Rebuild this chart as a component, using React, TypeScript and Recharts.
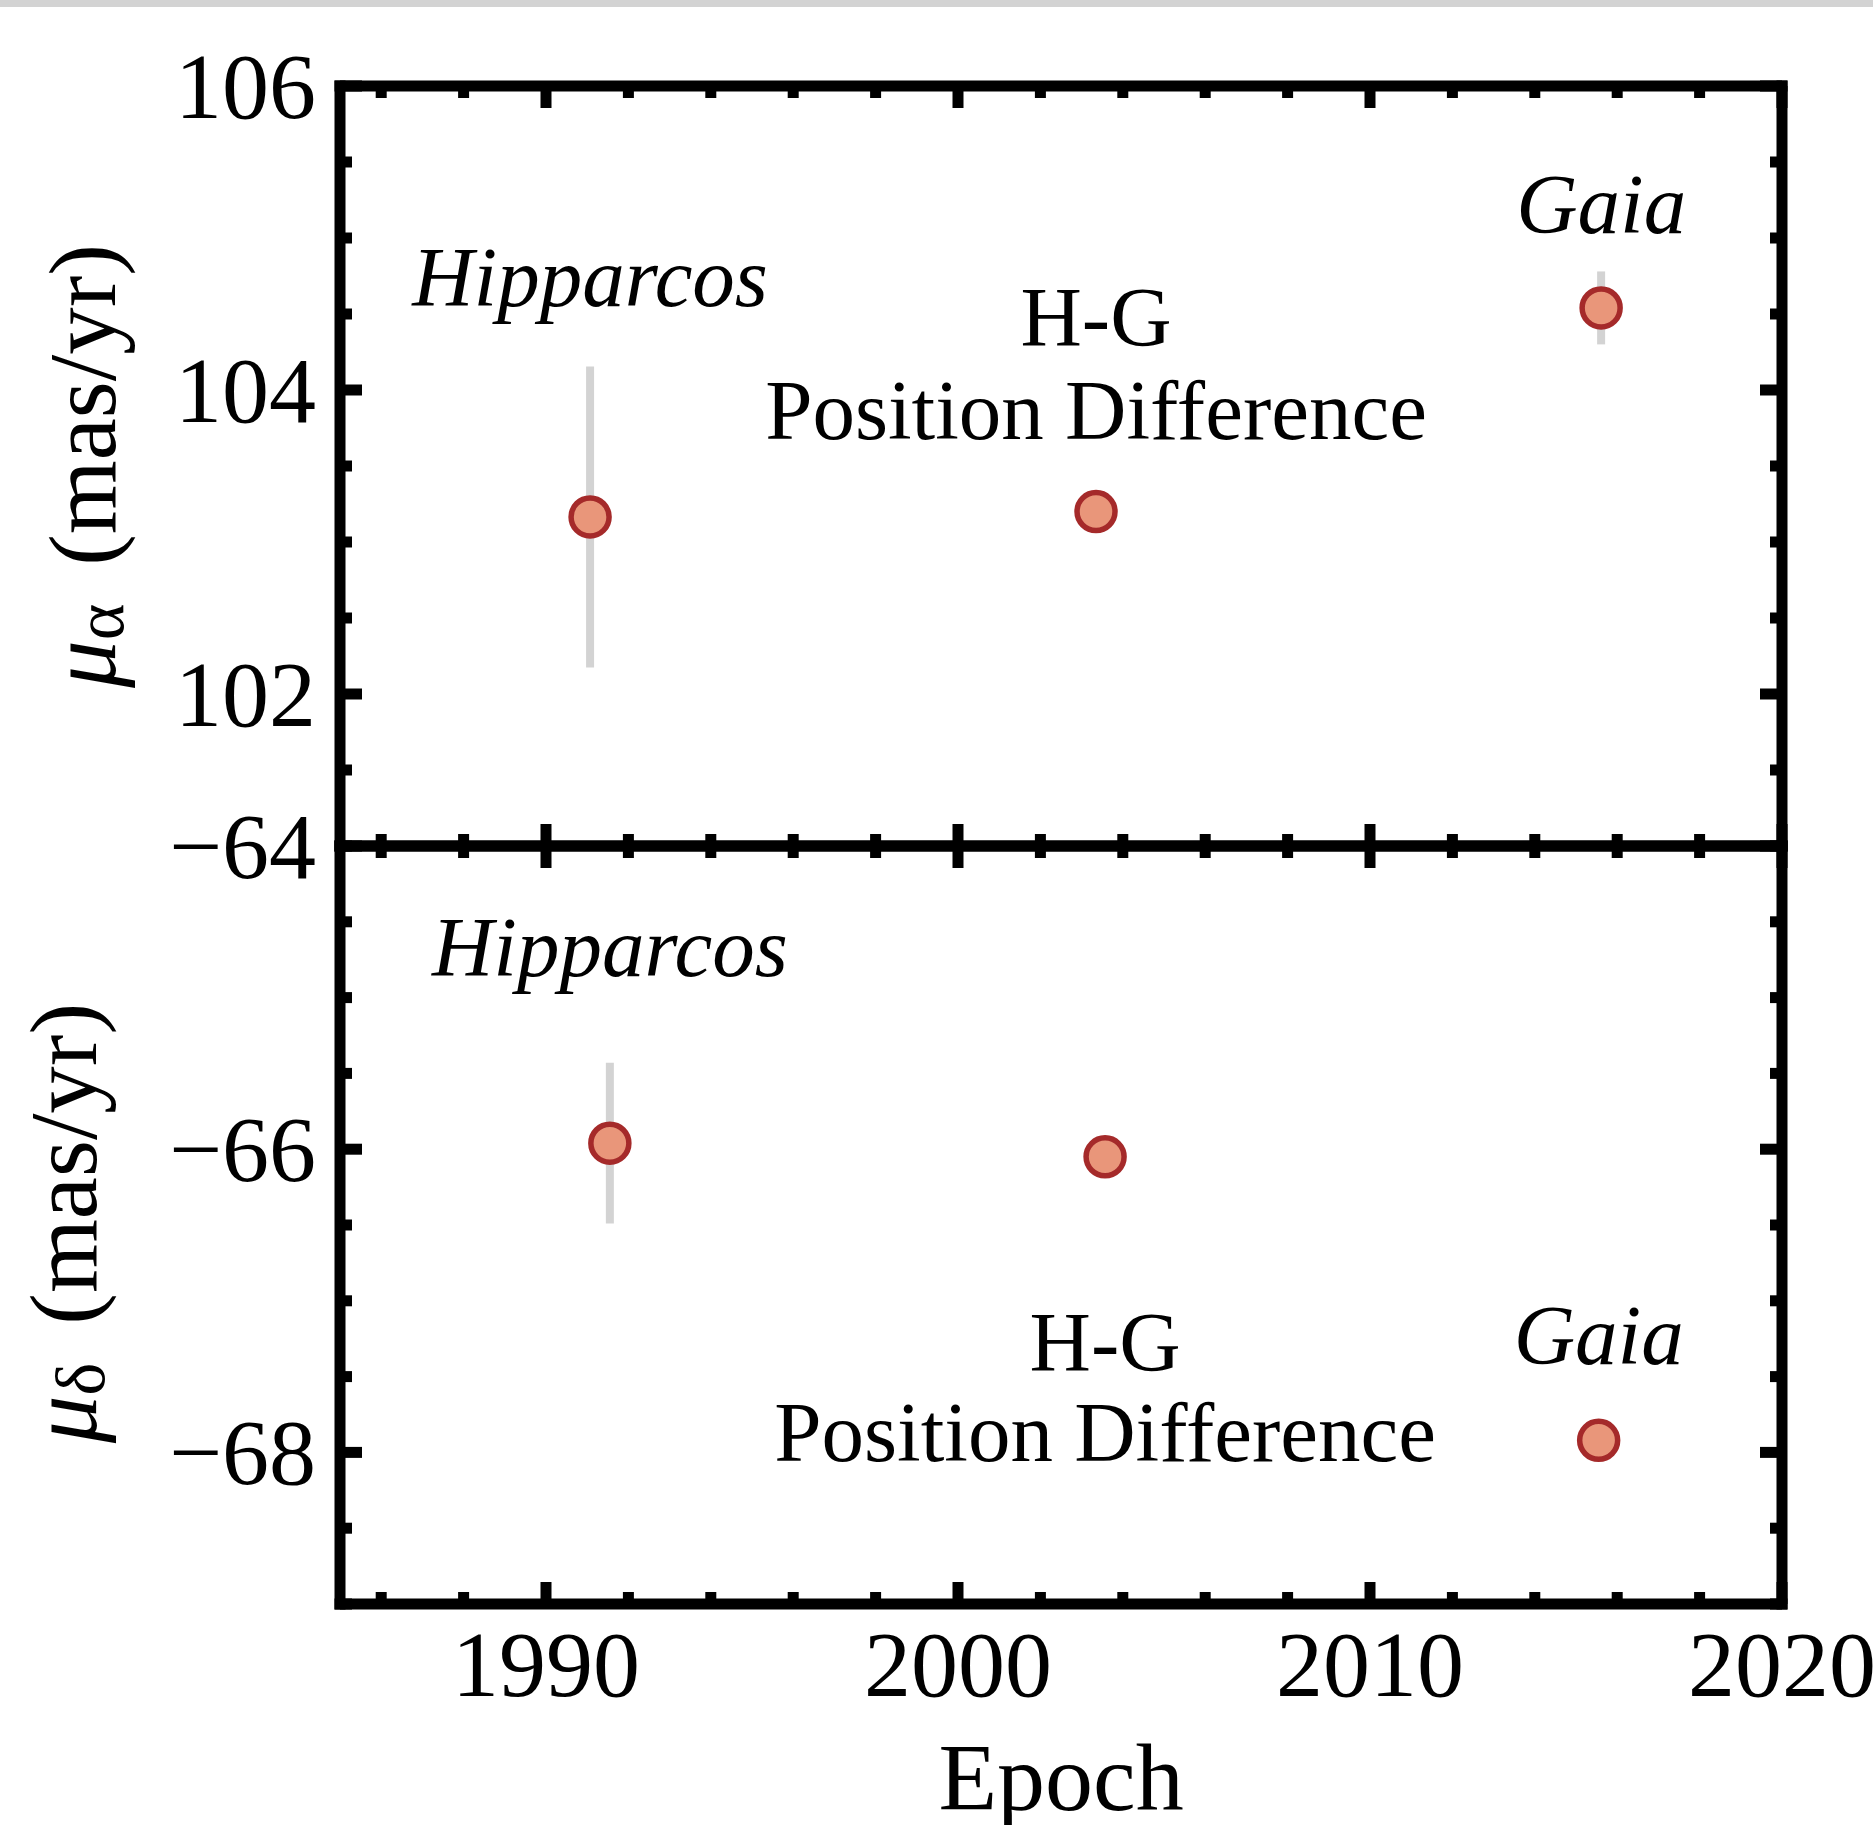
import React from "react";
import { ScatterChart, Scatter, XAxis, YAxis, ErrorBar, Label } from "recharts";

// proper motion measurements (mas/yr) by source
const sources = ["Hipparcos", "H-G", "Gaia"];
const raEpoch = [1991.07, 2003.35, 2015.61];
const raValue = [103.165, 103.2, 104.54];
const raError = [0.99, 0.02, 0.24];
const decEpoch = [1991.55, 2003.57, 2015.55];
const decValue = [-65.96, -66.05, -67.92];
const decError = [0.53, 0.02, 0.03];

// annotation anchors, in data units
const noteText = ["Hipparcos", "H-G", "Position Difference", "Gaia"];
const raNoteEpoch = [1991.07, 2003.35, 2003.35, 2015.61];
const raNoteValue = [104.55, 104.29, 103.68, 105.03];
const decNoteEpoch = [1991.55, 2003.57, 2003.57, 2015.55];
const decNoteValue = [-64.86, -67.46, -68.06, -67.42];

// axes
const xDomain = [1985, 2020];
const xTicks = [1986, 1988, 1990, 1992, 1994, 1996, 1998, 2000, 2002, 2004, 2006, 2008, 2010, 2012, 2014, 2016, 2018, 2020];
const raDomain = [101, 106];
const raTicks = [101, 101.5, 102, 102.5, 103, 103.5, 104, 104.5, 105, 105.5, 106];
const decDomain = [-69, -64];
const decTicks = [-69, -68.5, -68, -67.5, -67, -66.5, -66, -65.5, -65, -64.5, -64];

const FONT = '"Liberation Serif", "Times New Roman", serif';
const LINE = 11;
const MAJOR = 22;
const MINOR = 12;
const frame = { stroke: "#000", strokeWidth: LINE, strokeLinecap: "square" as const };

const raData = sources.map((s, i) => ({ name: s, x: raEpoch[i], y: raValue[i], err: raError[i] }));
const decData = sources.map((s, i) => ({ name: s, x: decEpoch[i], y: decValue[i], err: decError[i] }));
const raNotes = noteText.map((t, i) => ({ text: t, x: raNoteEpoch[i], y: raNoteValue[i] }));
const decNotes = noteText.map((t, i) => ({ text: t, x: decNoteEpoch[i], y: decNoteValue[i] }));

const fmt = (v: number) => String(v).replace("-", "\u2212");

function XTick(props: any) {
  const { x, y, payload, side, labels } = props;
  const v = payload.value;
  const major = Math.abs(v % 10) < 1e-6;
  const dir = side === "bottom" ? -1 : 1;
  return (
    <g>
      <line x1={x} x2={x} y1={y} y2={y + dir * (major ? MAJOR : MINOR)} stroke="#000" strokeWidth={LINE} />
      {labels && major && (
        <text x={x} y={y + 92} textAnchor="middle" fontFamily={FONT} fontSize={94} fill="#000">
          {v}
        </text>
      )}
    </g>
  );
}

function YTick(props: any) {
  const { x, y, payload, side, labels } = props;
  const v = payload.value;
  const major = Math.abs(v % 2) < 1e-6;
  const dir = side === "left" ? 1 : -1;
  return (
    <g>
      <line x1={x} x2={x + dir * (major ? MAJOR : MINOR)} y1={y} y2={y} stroke="#000" strokeWidth={LINE} />
      {labels && major && (
        <text x={x - 24} y={y} dy={32} textAnchor="end" fontFamily={FONT} fontSize={94} fill="#000">
          {fmt(v)}
        </text>
      )}
    </g>
  );
}

function Dot(props: any) {
  const { cx, cy } = props;
  return <circle cx={cx} cy={cy} r={19} fill="#E9967A" stroke="#A52A2A" strokeWidth={5.5} />;
}

function Note(props: any) {
  const { cx, cy, payload } = props;
  const italic = payload.text === "Hipparcos" || payload.text === "Gaia";
  return (
    <text x={cx} y={cy} textAnchor="middle" fontFamily={FONT} fontSize={85} fontStyle={italic ? "italic" : "normal"} fill="#000">
      {payload.text}
    </text>
  );
}

function yTitle(sub: string, tx: number, shift: number) {
  return (p: any) => {
    const vb = p.viewBox;
    const ty = vb.y + vb.height / 2 + shift;
    return (
      <text x={tx} y={ty} transform={`rotate(-90 ${tx} ${ty})`} textAnchor="middle" fontFamily={FONT} fontSize={95} fill="#000">
        <tspan fontStyle="italic">μ</tspan>
        <tspan fontSize={70} dy={8}>{sub}</tspan>
        <tspan dy={-8} dx={14}> (mas/yr)</tspan>
      </text>
    );
  };
}

function Panel(props: {
  height: number;
  margin: { top: number; right: number; bottom: number; left: number };
  domain: number[];
  ticks: number[];
  data: any[];
  notes: any[];
  sub: string;
  titleX: number;
  titleShift: number;
  bottomLabels: boolean;
}) {
  const { height, margin, domain, ticks, data, notes, sub, titleX, titleShift, bottomLabels } = props;
  return (
    <ScatterChart width={1873} height={height} margin={margin}>
      <XAxis
        xAxisId="xb"
        orientation="bottom"
        type="number"
        dataKey="x"
        domain={xDomain}
        allowDataOverflow
        ticks={xTicks}
        interval={0}
        height={10}
        tickSize={0}
        tickMargin={0}
        tickLine={false}
        axisLine={frame}
        tick={(p: any) => <XTick {...p} side="bottom" labels={bottomLabels} />}
      >
        {bottomLabels && (
          <Label
            content={(p: any) => (
              <text x={p.viewBox.x + p.viewBox.width / 2} y={p.viewBox.y + 206} textAnchor="middle" fontFamily={FONT} fontSize={96} fill="#000">
                Epoch
              </text>
            )}
          />
        )}
      </XAxis>
      <XAxis
        xAxisId="xt"
        orientation="top"
        type="number"
        dataKey="x"
        domain={xDomain}
        allowDataOverflow
        ticks={xTicks}
        interval={0}
        height={10}
        tickSize={0}
        tickMargin={0}
        tickLine={false}
        axisLine={frame}
        tick={(p: any) => <XTick {...p} side="top" labels={false} />}
      />
      <YAxis
        yAxisId="yl"
        orientation="left"
        type="number"
        dataKey="y"
        domain={domain}
        allowDataOverflow
        ticks={ticks}
        interval={0}
        width={10}
        tickSize={0}
        tickMargin={0}
        tickLine={false}
        axisLine={frame}
        tick={(p: any) => <YTick {...p} side="left" labels />}
      >
        <Label content={yTitle(sub, titleX, titleShift)} />
      </YAxis>
      <YAxis
        yAxisId="yr"
        orientation="right"
        type="number"
        dataKey="y"
        domain={domain}
        allowDataOverflow
        ticks={ticks}
        interval={0}
        width={10}
        tickSize={0}
        tickMargin={0}
        tickLine={false}
        axisLine={frame}
        tick={(p: any) => <YTick {...p} side="right" labels={false} />}
      />
      <Scatter data={data} dataKey="y" xAxisId="xb" yAxisId="yl" isAnimationActive={false} shape={Dot}>
        <ErrorBar dataKey="err" direction="y" width={0} stroke="#D3D3D3" strokeWidth={8} isAnimationActive={false} />
      </Scatter>
      <Scatter data={notes} dataKey="y" xAxisId="xb" yAxisId="yl" isAnimationActive={false} shape={Note} />
    </ScatterChart>
  );
}

export default function App() {
  return (
    <div style={{ position: "absolute", left: 0, top: 0, width: 1873, height: 1825, background: "#fff", overflow: "hidden" }}>
      <div style={{ position: "absolute", left: 0, top: 0, width: 1873, height: 7, background: "#D3D3D3" }} />
      <div style={{ position: "absolute", left: 0, top: 0 }}>
        <Panel
          height={900}
          margin={{ top: 76, right: 81, bottom: 44, left: 330 }}
          domain={raDomain}
          ticks={raTicks}
          data={raData}
          notes={raNotes}
          sub="α"
          titleX={115}
          titleShift={0}
          bottomLabels={false}
        />
      </div>
      <div style={{ position: "absolute", left: 0, top: 780 }}>
        <Panel
          height={1045}
          margin={{ top: 56, right: 81, bottom: 211, left: 330 }}
          domain={decDomain}
          ticks={decTicks}
          data={decData}
          notes={decNotes}
          sub="δ"
          titleX={96}
          titleShift={-2}
          bottomLabels
        />
      </div>
    </div>
  );
}
